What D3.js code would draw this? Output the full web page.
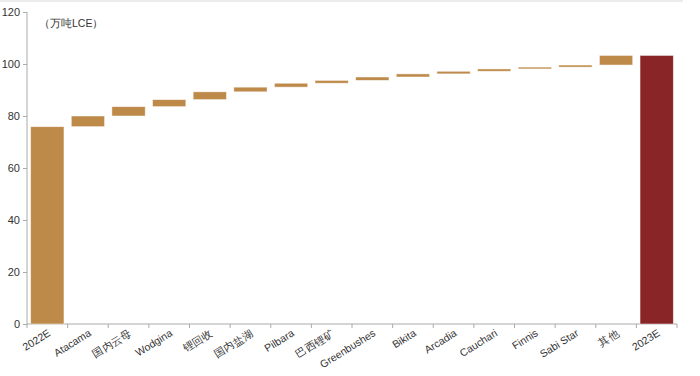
<html>
<head>
<meta charset="utf-8">
<script src="https://cdn.jsdelivr.net/npm/d3@7/dist/d3.min.js"></script>
<style>
  body { margin: 0; background: #fff; }
  svg text { font-family: "Liberation Sans", Arial, sans-serif; fill: #333; }
  .axis path, .axis line { stroke: #aaa; }
</style>
</head>
<body>
<svg width="700" height="376"></svg>
<script>
// categories and values (万吨LCE)
var categories = ["2022E", "Atacama", "国内云母", "Wodgina", "锂回收", "国内盐湖", "Pilbara", "巴西锂矿",
                  "Greenbushes", "Bikita", "Arcadia", "Cauchari", "Finnis", "Sabi Star", "其他", "2023E"];
var startValue = 75.9;
var increments = [4.1, 3.6, 2.7, 3.0, 1.8, 1.5, 1.1, 1.3, 1.2, 1.0, 0.9, 0.7, 0.8, 3.7];
var yTicks = [0, 20, 40, 60, 80, 100, 120];

// build waterfall rows
var rows = [];
var run = startValue;
rows.push({ name: categories[0], lo: 0, hi: startValue, kind: "total0" });
increments.forEach(function(v, i) {
  rows.push({ name: categories[i + 1], lo: run, hi: run + v, kind: "step" });
  run += v;
});
rows.push({ name: categories[categories.length - 1], lo: 0, hi: run, kind: "total1" });

var svg = d3.select("svg");
var mLeft = 27, mRight = 677, mTop = 12, mBottom = 324;

// top border line
svg.append("line").attr("x1", 0).attr("x2", 683).attr("y1", 1).attr("y2", 1)
  .attr("stroke", "#e6e6e6").attr("stroke-width", 1.5);

var x = d3.scaleBand().domain(categories).range([mLeft, mRight])
  .paddingInner(0.18).paddingOuter(0.09);
var y = d3.scaleLinear().domain([0, 120]).range([mBottom, mTop]);

// y axis
var gy = svg.append("g").attr("class", "axis").attr("transform", "translate(" + mLeft + ",0)")
  .call(d3.axisLeft(y).tickValues(yTicks).tickSize(4).tickPadding(3));
gy.selectAll("text").style("font-size", "11px");
gy.select(".domain").attr("d", "M0," + y(120) + "V" + mBottom);

// x axis line + boundary ticks
var gx = svg.append("g").attr("class", "axis");
gx.append("line").attr("x1", mLeft).attr("x2", mRight).attr("y1", mBottom).attr("y2", mBottom);
var step = x.step();
d3.range(categories.length + 1).forEach(function(i) {
  var bx = mLeft + i * step;
  gx.append("line").attr("x1", bx).attr("x2", bx).attr("y1", mBottom).attr("y2", mBottom + 4);
});

// x labels
svg.append("g").selectAll("text").data(categories).enter().append("text")
  .attr("transform", function(d) {
    return "translate(" + (x(d) + x.bandwidth() / 2 + 4) + "," + (mBottom + 11) + ") rotate(-32)";
  })
  .attr("text-anchor", "end")
  .style("font-size", "10.5px")
  .text(function(d) { return d; });

// bars
svg.append("g").selectAll("rect").data(rows).enter().append("rect")
  .attr("x", function(d) { return x(d.name); })
  .attr("width", x.bandwidth())
  .attr("y", function(d) { return y(d.hi); })
  .attr("height", function(d) { return y(d.lo) - y(d.hi); })
  .attr("fill", function(d) { return d.kind === "total1" ? "#8a2527" : "#be8a4a"; })
  .attr("stroke", "#fff").attr("stroke-opacity", 0.6).attr("stroke-width", 0.8);

// unit label
svg.append("text").attr("x", 39).attr("y", 27).style("font-size", "10.5px").text("（万吨LCE）");
</script>
</body>
</html>
